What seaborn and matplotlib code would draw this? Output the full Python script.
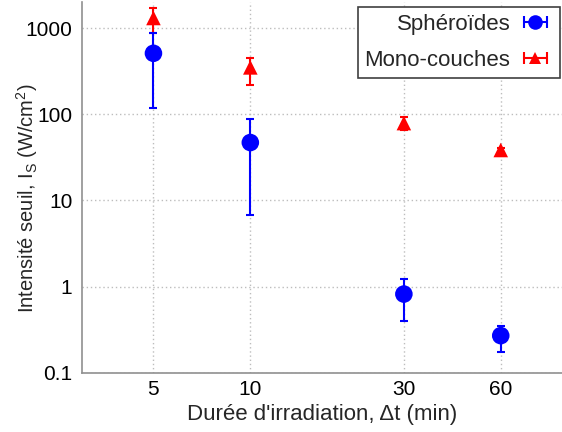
import matplotlib
matplotlib.use("Agg")
import matplotlib.pyplot as plt
import matplotlib.ticker as mticker
from matplotlib.lines import Line2D
from matplotlib.legend_handler import HandlerLine2D, HandlerTuple
import numpy as np
import pandas as pd
import seaborn as sns

# Irradiation durations (min)
durations = [5, 10, 30, 60]
x_ticks = [5, 10, 30, 60]
x_tick_labels = ["5", "10", "30", "60"]

# Threshold intensity (W/cm^2) with lower / upper bounds
spheroides = [510, 47, 0.82, 0.27]
spheroides_low = [118, 6.8, 0.40, 0.175]
spheroides_high = [875, 88, 1.22, 0.35]

monocouches = [1310, 350, 79, 38.5]
monocouches_low = [868, 220, 65, 36]
monocouches_high = [1700, 450, 93, 41]

series_names = ["Sphéroïdes", "Mono-couches"]
y_ticks = [0.1, 1, 10, 100, 1000]
y_tick_labels = ["0.1", "1", "10", "100", "1000"]

sns.set_style("white")
plt.rcParams["font.family"] = ["Liberation Sans", "DejaVu Sans"]
plt.rcParams["mathtext.fontset"] = "custom"
plt.rcParams["mathtext.rm"] = "Liberation Sans"

df = pd.DataFrame({
    "t": durations * 2,
    "I": spheroides + monocouches,
    "serie": [series_names[0]] * 4 + [series_names[1]] * 4,
})

fig = plt.figure(figsize=(5.62, 4.32), dpi=100)
ax = fig.add_axes([0.146, 0.137, 0.854, 0.858])

colors = {series_names[0]: "#0000ff", series_names[1]: "#ff0000"}
markers = {series_names[0]: "o", series_names[1]: "^"}

# Error bars (asymmetric)
for name, vals, lo, hi in [
    (series_names[1], monocouches, monocouches_low, monocouches_high),
    (series_names[0], spheroides, spheroides_low, spheroides_high),
]:
    v = np.array(vals)
    yerr = np.vstack([v - np.array(lo), np.array(hi) - v])
    ax.errorbar(durations, v, yerr=yerr, fmt="none", ecolor=colors[name],
                elinewidth=1.5, capsize=3, capthick=1.5, zorder=2)

sns.scatterplot(data=df[df.serie == series_names[0]], x="t", y="I",
                color=colors[series_names[0]], marker="o", s=160,
                edgecolor="none", ax=ax, zorder=3, legend=False)
sns.scatterplot(data=df[df.serie == series_names[1]], x="t", y="I",
                color=colors[series_names[1]], marker="^", s=110,
                edgecolor="none", ax=ax, zorder=3, legend=False)

ax.set_xscale("log")
ax.set_yscale("log")
ax.set_xlim(3.0, 93)
ax.set_ylim(0.1, 2000)

ax.xaxis.set_major_locator(mticker.FixedLocator(x_ticks))
ax.xaxis.set_major_formatter(mticker.FixedFormatter(x_tick_labels))
ax.xaxis.set_minor_locator(mticker.NullLocator())
ax.yaxis.set_major_locator(mticker.FixedLocator(y_ticks))
ax.yaxis.set_major_formatter(mticker.FixedFormatter(y_tick_labels))
ax.yaxis.set_minor_locator(mticker.LogLocator(base=10, subs=[2, 5, 8]))
ax.yaxis.set_minor_formatter(mticker.NullFormatter())

ax.tick_params(axis="both", which="major", direction="in", length=6,
               width=1, color="#808080", labelsize=15, labelcolor="black")
ax.tick_params(axis="y", which="major", pad=7)
ax.tick_params(axis="x", which="major", pad=5)
ax.tick_params(axis="both", which="minor", direction="in", length=3,
               width=1, color="#808080")

ax.grid(True, which="major", linestyle=(0, (1, 2)), color="#bdbdbd", linewidth=1)
ax.set_axisbelow(True)

for side in ["top", "right"]:
    ax.spines[side].set_visible(False)
for side in ["left", "bottom"]:
    ax.spines[side].set_color("#909090")
    ax.spines[side].set_linewidth(1.2)

ax.set_xlabel("Durée d'irradiation, Δt (min)", fontsize=16, labelpad=4)
ax.set_ylabel(r"Intensité seuil, I$_\mathregular{S}$ (W/cm$^\mathregular{2}$)",
              fontsize=14.5, va="center")
ax.yaxis.set_label_coords(-0.114, 0.47)

# Legend handles: horizontal bar with end caps overlaid by the marker
handles = []
hmap = {}
for name in series_names:
    bar = Line2D([], [], color=colors[name], lw=1.5, marker="|",
                 markersize=8, markeredgewidth=1.5)
    mk = Line2D([], [], color=colors[name], ls="none", marker=markers[name],
                markersize=10.5 if markers[name] == "o" else 9,
                markeredgewidth=0)
    hmap[bar] = HandlerLine2D(numpoints=2)
    hmap[mk] = HandlerLine2D(numpoints=1)
    handles.append((bar, mk))
hmap[tuple] = HandlerTuple(ndivide=1, pad=0)

leg = ax.legend(handles, series_names, handler_map=hmap, loc="upper right",
                bbox_to_anchor=(1.0, 0.992), markerfirst=False, fontsize=16,
                frameon=True, fancybox=False, edgecolor="#404040",
                framealpha=1, handlelength=1.65, handletextpad=0.3,
                borderpad=0.3, labelspacing=0.7, borderaxespad=0.08)
leg.get_frame().set_linewidth(1.2)
for t in leg.get_texts():
    t.set_ha("right")

fig.savefig("out.png", dpi=100)
